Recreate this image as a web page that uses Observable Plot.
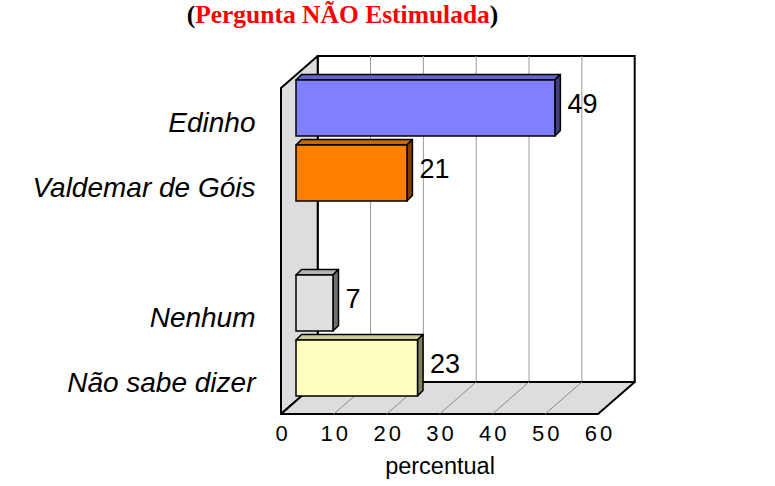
<!DOCTYPE html>
<html><head><meta charset="utf-8">
<script src="https://cdn.jsdelivr.net/npm/d3@7"></script>
<script src="https://cdn.jsdelivr.net/npm/@observablehq/plot@0.6"></script>
<style>
html,body{margin:0;padding:0;background:#fff;}
#title{height:29px;line-height:29px;width:685px;text-align:center;font-family:"Liberation Serif","Times New Roman",serif;font-weight:bold;font-size:25.5px;white-space:nowrap;color:#000;}
#title .r{color:#FF0000}
#chart svg{display:block}
g[aria-label="x-axis tick label"] text{letter-spacing:3px}
</style></head><body>
<div id="title">(<span class="r">Pergunta NÃO Estimulada</span>)</div>
<div id="chart"></div>
<script>
const slots = ["Edinho","Valdemar de Góis","","Nenhum","Não sabe dizer"];
const categories = ["Edinho","Valdemar de Góis","Nenhum","Não sabe dizer"];
const values = [49,21,7,23];
const frontColors = ["#8080FF","#FF8000","#E0E0E0","#FFFFC0"];
const topColors = ["#6464C8","#CC6600","#B4B4B4","#CCCC9A"];
const sideColors = ["#404080","#804000","#707070","#808060"];
const xTicks = [0,10,20,30,40,50,60];
const xLabel = "percentual";

const data = categories.map((c,i)=>({cat:c, value:values[i], front:frontColors[i], top:topColors[i], side:sideColors[i]}));

const DEPTH = [36.7,-32], BAR = [15,-13], BARD = [5.5,-5.5];
const poly = pts => pts.map(p=>p.join(",")).join(" ");

function walls(index, scales, vals, dims) {
  const x = scales.x;
  const x0 = x(xTicks[0]), x1 = x(xTicks[xTicks.length-1]);
  const top = dims.marginTop, bottom = dims.height - dims.marginBottom;
  const [ddx, ddy] = DEPTH;
  const g = d3.create("svg:g");
  g.append("rect").attr("x", x0+ddx).attr("y", top+ddy).attr("width", x1-x0).attr("height", bottom-top)
    .attr("fill","#fff").attr("stroke","#000").attr("stroke-width",2);
  for (const t of xTicks.slice(1,-1)) {
    g.append("line").attr("x1", x(t)+ddx).attr("x2", x(t)+ddx).attr("y1", top+ddy).attr("y2", bottom+ddy)
      .attr("stroke","#9a9a9a").attr("stroke-width",1);
  }
  g.append("polygon").attr("points", poly([[x0,top],[x0+ddx,top+ddy],[x0+ddx,bottom+ddy],[x0,bottom]]))
    .attr("fill","#DDDDDD").attr("stroke","#000").attr("stroke-width",2).attr("stroke-linejoin","round");
  g.append("polygon").attr("points", poly([[x0,bottom],[x1,bottom],[x1+ddx,bottom+ddy],[x0+ddx,bottom+ddy]]))
    .attr("fill","#DDDDDD").attr("stroke","#000").attr("stroke-width",2).attr("stroke-linejoin","round");
  for (const t of xTicks.slice(1,-1)) {
    g.append("line").attr("x1", x(t)).attr("x2", x(t)+ddx).attr("y1", bottom).attr("y2", bottom+ddy)
      .attr("stroke","#8a8a8a").attr("stroke-width",1);
  }
  return g.node();
}

function barSides(index, scales) {
  const x = scales.x, y = scales.y;
  const bw = y.bandwidth();
  const g = d3.create("svg:g");
  for (const d of data) {
    const xl = x(0)+BAR[0], xr = x(d.value)+BAR[0], yt = y(d.cat)+BAR[1], yb = yt + bw;
    g.append("polygon").attr("points", poly([[xl,yt],[xr,yt],[xr+BARD[0],yt+BARD[1]],[xl+BARD[0],yt+BARD[1]]]))
      .attr("fill", d.top).attr("stroke","#000").attr("stroke-width",1.5).attr("stroke-linejoin","round");
    g.append("polygon").attr("points", poly([[xr,yt],[xr+BARD[0],yt+BARD[1]],[xr+BARD[0],yb+BARD[1]],[xr,yb]]))
      .attr("fill", d.side).attr("stroke","#000").attr("stroke-width",1.5).attr("stroke-linejoin","round");
  }
  return g.node();
}

const chart = Plot.plot({
  width: 775, height: 457,
  marginLeft: 281, marginRight: 177, marginTop: 59, marginBottom: 72,
  x: {domain: [xTicks[0], xTicks[xTicks.length-1]], axis: null},
  y: {domain: slots, paddingInner: 0.143, paddingOuter: 0.075, axis: null},
  color: {type: "identity"},
  style: {background: "white", fontFamily: "'Liberation Sans', Arial, sans-serif", overflow: "visible", color: "#000"},
  marks: [
    walls,
    barSides,
    Plot.barX(data, {y: "cat", x: "value", fill: "front", stroke: "#000", strokeWidth: 1.5, dx: BAR[0], dy: BAR[1]}),
    Plot.text(data, {x: "value", y: "cat", text: d => String(d.value), textAnchor: "start", dx: 27, dy: -17.5, fontSize: 27, fill: "#000"}),
    Plot.text(data, {x: () => 0, y: "cat", text: "cat", textAnchor: "end", dx: -26, dy: 1.8, fontSize: 28, fontStyle: "italic", fill: "#000"}),
    Plot.axisX(xTicks, {tickSize: 0, tickPadding: 10.4, fontSize: 22, label: null, dx: 1.5}),
    Plot.text([xLabel], {frameAnchor: "bottom", lineAnchor: "middle", text: d => d, dy: 51.8, fontSize: 23.5, fill: "#000"})
  ]
});
document.getElementById("chart").appendChild(chart);
</script>
</body></html>
